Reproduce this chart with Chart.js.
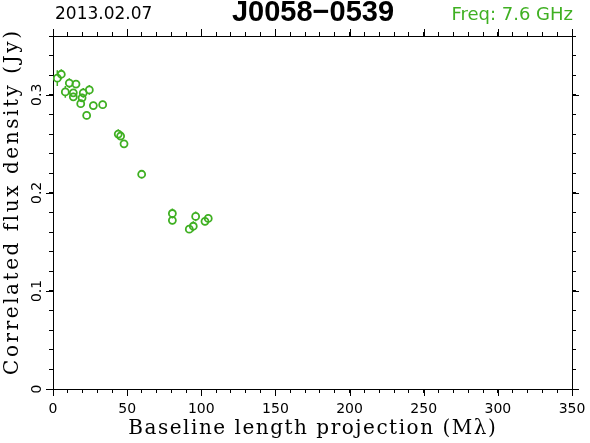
<!DOCTYPE html>
<html>
<head>
<meta charset="utf-8">
<script src="https://cdn.jsdelivr.net/npm/chart.js@4"></script>
<style>
  html, body { margin: 0; padding: 0; background: #fff; }
  #wrap { width: 590px; height: 443px; }
</style>
</head>
<body>
<div id="wrap"><canvas id="flux" width="590" height="443"></canvas></div>
<script>
// values
const baseline = [2.9, 5.6, 8.3, 11.0, 15.5, 13.7, 13.7, 20.4, 24.5, 19.6, 18.7, 27.2, 33.5, 22.7,
                  44.0, 45.6, 47.9, 59.8, 80.5, 80.5, 91.9, 94.6, 96.2, 102.5, 104.7];
const flux = [0.317, 0.321, 0.303, 0.312, 0.311, 0.302, 0.298, 0.302, 0.305, 0.297, 0.291, 0.289, 0.290, 0.279,
              0.260, 0.258, 0.250, 0.219, 0.179, 0.172, 0.163, 0.166, 0.176, 0.171, 0.174];
const fluxErr = [0.008, 0.005, 0.006, 0.005, 0.004, 0.004, 0.004, 0.005, 0.005, 0.004, 0.004, 0.004, 0.004, 0.004,
                 0.005, 0.004, 0.004, 0.004, 0.005, 0.004, 0.004, 0.005, 0.005, 0.004, 0.004];
const xTickLabels = [0, 50, 100, 150, 200, 250, 300, 350];
const yTickLabels = [0, 0.1, 0.2, 0.3];

const sourceName = 'J0058\u22120539';
const obsDate = '2013.02.07';
const freqText = 'Freq: 7.6 GHz';
const xTitle = 'Baseline length projection (M\u03bb)';
const yTitle = 'Correlated flux density (Jy)';

const green = '#3fb022';

const isMajorY = v => yTickLabels.some(t => Math.abs(t - v) < 1e-6);
const isMajorX = v => xTickLabels.some(t => Math.abs(t - v) < 1e-6);

// small vertical error bars, only the parts outside the circle
const errorBars = {
  id: 'errorBars',
  afterDatasetsDraw(chart) {
    const {ctx, scales: {x, y}} = chart;
    const r = 3.5;
    ctx.save();
    ctx.strokeStyle = green;
    ctx.lineWidth = 1.5;
    baseline.forEach((b, i) => {
      const px = x.getPixelForValue(b);
      const top = y.getPixelForValue(flux[i] + fluxErr[i]);
      const bot = y.getPixelForValue(flux[i] - fluxErr[i]);
      const py = y.getPixelForValue(flux[i]);
      ctx.beginPath();
      if (py - top > r) { ctx.moveTo(px, top); ctx.lineTo(px, py - r); }
      if (bot - py > r) { ctx.moveTo(px, py + r); ctx.lineTo(px, bot); }
      ctx.stroke();
    });
    ctx.restore();
  }
};

// longer marks for the labelled ticks, pointing outwards
const majorTicks = {
  id: 'majorTicks',
  afterDraw(chart) {
    const {ctx, chartArea: a, scales} = chart;
    const len = 7;
    ctx.save();
    ctx.strokeStyle = '#000';
    ctx.lineWidth = 1;
    ctx.beginPath();
    xTickLabels.forEach(v => {
      const px = Math.round(scales.x.getPixelForValue(v)) + 0.5;
      ctx.moveTo(px, a.bottom); ctx.lineTo(px, a.bottom + len);
      ctx.moveTo(px, a.top); ctx.lineTo(px, a.top - len);
    });
    yTickLabels.forEach(v => {
      const py = Math.round(scales.y.getPixelForValue(v)) + 0.5;
      ctx.moveTo(a.left, py); ctx.lineTo(a.left - len, py);
      ctx.moveTo(a.right, py); ctx.lineTo(a.right + len, py);
    });
    ctx.stroke();
    ctx.restore();
  }
};

// spaced-out text, stretched to the given width (pgplot fonts run wide)
function spacedText(ctx, text, cx, cy, width) {
  ctx.letterSpacing = '0px';
  const w = ctx.measureText(text).width;
  const sp = (width - w) / text.length;
  ctx.letterSpacing = sp + 'px';
  ctx.fillText(text, cx + sp / 2, cy);
  ctx.letterSpacing = '0px';
}

const headerText = {
  id: 'headerText',
  afterDraw(chart) {
    const {ctx, chartArea: a} = chart;
    ctx.save();
    ctx.textBaseline = 'middle';
    ctx.fillStyle = '#000';
    ctx.font = '17px "DejaVu Sans"';
    ctx.textAlign = 'left';
    ctx.fillText(obsDate, 55, 15);
    ctx.font = 'bold 29px "Liberation Sans"';
    ctx.textAlign = 'center';
    ctx.fillText(sourceName, 313, 13);
    ctx.fillStyle = green;
    ctx.font = '18px "DejaVu Sans"';
    ctx.textAlign = 'right';
    ctx.fillText(freqText, 573, 15);

    // axis titles
    ctx.fillStyle = '#000';
    ctx.font = '20px "DejaVu Serif"';
    ctx.textAlign = 'center';
    spacedText(ctx, xTitle, 312, 429, 369);
    ctx.translate(13, 203);
    ctx.rotate(-Math.PI / 2);
    spacedText(ctx, yTitle, 0, 0, 346);
    ctx.restore();
  }
};

const tickFont = {family: 'DejaVu Sans', size: 14};
const axisGrid = {drawOnChartArea: false, tickLength: 4, color: '#000', tickColor: '#000'};
const axisBorder = {display: true, color: '#000', width: 1};

new Chart(document.getElementById('flux'), {
  type: 'scatter',
  data: {
    datasets: [{
      data: baseline.map((b, i) => ({x: b, y: flux[i]})),
      pointStyle: 'circle',
      pointRadius: 3.5,
      pointBorderWidth: 1.8,
      pointBorderColor: green,
      pointBackgroundColor: 'rgba(0,0,0,0)',
      showLine: false
    }]
  },
  options: {
    responsive: false,
    animation: false,
    devicePixelRatio: 1,
    layout: {padding: 0},
    plugins: {legend: {display: false}, title: {display: false}, tooltip: {enabled: false}},
    scales: {
      x: {
        type: 'linear', position: 'bottom', min: 0, max: 350,
        grid: axisGrid, border: axisBorder,
        ticks: {
          stepSize: 10, autoSkip: false, maxRotation: 0, color: '#000', font: tickFont, padding: 8,
          callback: v => isMajorX(v) ? String(v) : ''
        },
        afterFit: s => { s.height = 54; s.paddingLeft = 0; s.paddingRight = 0; }
      },
      x2: {
        type: 'linear', position: 'top', min: 0, max: 350,
        grid: axisGrid, border: axisBorder,
        ticks: {stepSize: 10, autoSkip: false, display: false},
        afterFit: s => { s.height = 36; s.paddingLeft = 0; s.paddingRight = 0; }
      },
      y: {
        type: 'linear', position: 'left', min: 0, max: 0.36,
        grid: axisGrid, border: axisBorder,
        ticks: {
          stepSize: 0.02, autoSkip: false, minRotation: 90, maxRotation: 90, crossAlign: 'center',
          color: '#000', font: tickFont, padding: 1,
          callback: v => isMajorY(v) ? (Math.abs(v) < 1e-9 ? '0' : v.toFixed(1)) : ''
        },
        afterFit: s => { s.width = 53; s.paddingTop = 0; s.paddingBottom = 0; }
      },
      y2: {
        type: 'linear', position: 'right', min: 0, max: 0.36,
        grid: axisGrid, border: axisBorder,
        ticks: {stepSize: 0.02, autoSkip: false, display: false},
        afterFit: s => { s.width = 18; s.paddingTop = 0; s.paddingBottom = 0; }
      }
    }
  },
  plugins: [errorBars, majorTicks, headerText]
});
</script>
</body>
</html>
